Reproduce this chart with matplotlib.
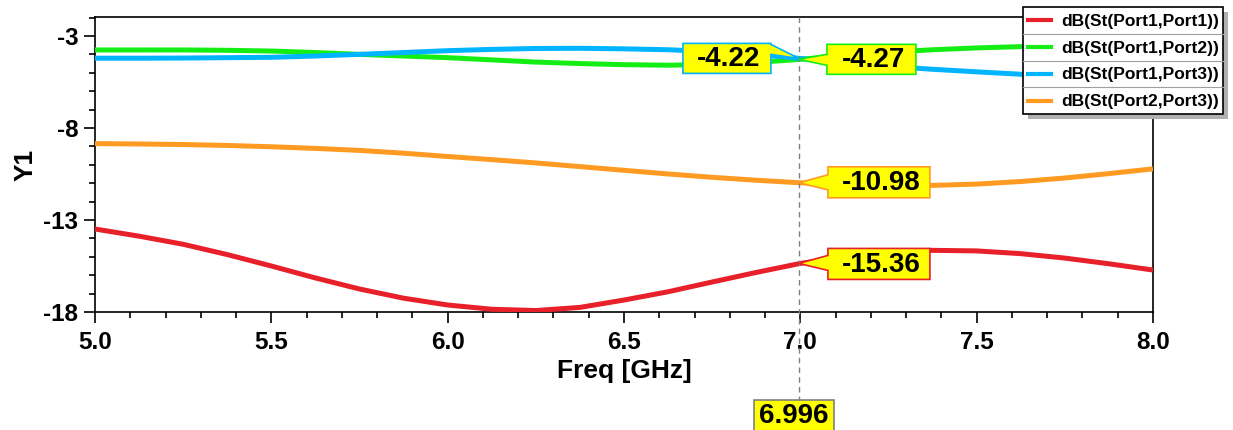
import matplotlib
matplotlib.use("Agg")
import matplotlib.pyplot as plt
from matplotlib.patches import Rectangle, Polygon
from matplotlib.lines import Line2D

plt.rcParams['font.family'] = ['Liberation Sans', 'DejaVu Sans']

# ---------------- data ----------------
freq = [5.0, 5.125, 5.25, 5.375, 5.5, 5.625, 5.75, 5.875, 6.0, 6.125, 6.25, 6.375,
        6.5, 6.625, 6.75, 6.875, 7.0, 7.125, 7.25, 7.375, 7.5, 7.625, 7.75, 7.875, 8.0]
s11 = [-13.49, -13.88, -14.32, -14.88, -15.50, -16.15, -16.75, -17.25, -17.62, -17.85,
       -17.92, -17.75, -17.35, -16.90, -16.37, -15.85, -15.36, -15.00, -14.76, -14.65,
       -14.68, -14.83, -15.07, -15.38, -15.72]
s12 = [-3.76, -3.76, -3.76, -3.78, -3.82, -3.90, -4.00, -4.09, -4.18, -4.30,
       -4.42, -4.50, -4.56, -4.59, -4.55, -4.44, -4.27, -4.06, -3.88, -3.75,
       -3.65, -3.58, -3.52, -3.47, -3.43]
s13 = [-4.21, -4.21, -4.20, -4.18, -4.16, -4.09, -4.00, -3.90, -3.80, -3.73,
       -3.68, -3.67, -3.70, -3.75, -3.85, -4.01, -4.22, -4.45, -4.65, -4.81,
       -4.95, -5.08, -5.20, -5.30, -5.40]
s23 = [-8.85, -8.87, -8.90, -8.95, -9.02, -9.11, -9.22, -9.37, -9.55, -9.72,
       -9.90, -10.10, -10.30, -10.50, -10.68, -10.84, -10.98, -11.07, -11.12, -11.12,
       -11.05, -10.91, -10.72, -10.48, -10.22]

series_names = ["dB(St(Port1,Port1))", "dB(St(Port1,Port2))",
                "dB(St(Port1,Port3))", "dB(St(Port2,Port3))"]
series_vals = [s11, s12, s13, s23]
colors = ["#e8202a", "#14ee14", "#00b4ff", "#ff9a22"]

marker_freq = 6.996
marker_label = "6.996"
marker_vals = {"s11": -15.36, "s12": -4.27, "s13": -4.22, "s23": -10.98}

xticks = [5.0, 5.5, 6.0, 6.5, 7.0, 7.5, 8.0]
yticks = [-18, -13, -8, -3]

# ---------------- figure ----------------
W, H = 1233, 430
fig = plt.figure(figsize=(W / 100, H / 100), dpi=100)

def fx(x):
    return x / W

def fy(y):
    return 1 - y / H

ax = fig.add_axes([fx(95), fy(312), fx(1153) - fx(95), fy(17) - fy(312)])
for vals, c in zip(series_vals, colors):
    ax.plot(freq, vals, color=c, lw=3.6, solid_capstyle='butt',
            solid_joinstyle='round', zorder=3)

ax.set_xlim(5.0, 8.0)
ax.set_ylim(-18, -1.97)
ax.set_xticks(xticks)
ax.set_xticklabels([f"{t:.1f}" for t in xticks])
ax.set_yticks(yticks)
ax.set_yticklabels([str(t) for t in yticks])
ax.set_xticks([5.0 + 0.1 * i for i in range(31)], minor=True)
ax.set_yticks(list(range(-18, -1)), minor=True)
ax.tick_params(axis='both', which='major', direction='out', length=8, width=1.2,
               labelsize=17.5, colors='black')
ax.tick_params(axis='both', which='minor', direction='out', length=4, width=1.2)
for lab in ax.get_xticklabels() + ax.get_yticklabels():
    lab.set_fontweight('bold')
ax.tick_params(axis='x', pad=6)
ax.tick_params(axis='y', pad=4)
for sp in ax.spines.values():
    sp.set_linewidth(1.2)
    sp.set_color('black')

ax.set_xlabel("Freq [GHz]", fontsize=19, fontweight='bold', labelpad=3)
ax.set_ylabel("Y1", fontsize=19, fontweight='bold', labelpad=4)

# marker dashed line
fig.canvas.draw()
tip_x_px, _ = ax.transData.transform((marker_freq, 0))
fig.add_artist(Line2D([tip_x_px / W, tip_x_px / W], [fy(17), fy(400)],
                      transform=fig.transFigure, color='#808080', lw=1,
                      ls=(0, (4, 3)), zorder=5))

def tip_px(val):
    xd, yd = ax.transData.transform((marker_freq, val))
    return xd, H - yd

def callout(val, txt, ec, side, dx0, dx1, dy0, dy1, b0, b1):
    tx, ty = tip_px(val)
    x0, x1 = tx + dx0, tx + dx1
    y0, y1 = ty + dy0, ty + dy1
    if side == 'left':
        pts = [(x0, y0), (x1, y0), (x1, y1), (x0, y1), (x0, ty + b1), (tx, ty), (x0, ty + b0)]
    else:
        pts = [(x0, y0), (x1, y0), (x1, ty + b0), (tx, ty), (x1, ty + b1), (x1, y1), (x0, y1)]
    poly = Polygon([(fx(p[0]), fy(p[1])) for p in pts], closed=True,
                   transform=fig.transFigure, facecolor='#ffff00', edgecolor=ec,
                   lw=1.2, zorder=10)
    fig.add_artist(poly)
    fig.text(fx((x0 + x1) / 2 + 2), fy((y0 + y1) / 2 + 1), txt, ha='center', va='center',
             fontsize=20, fontweight='bold', color='black', zorder=11)

callout(marker_vals["s13"], f"{marker_vals['s13']:.2f}", colors[2], 'right',
        -116, -28, -15, 15, -14, -4)
callout(marker_vals["s12"], f"{marker_vals['s12']:.2f}", colors[1], 'left',
        28, 117, -15, 15, -5, 6)
callout(marker_vals["s23"], f"{marker_vals['s23']:.2f}", colors[3], 'left',
        29, 131, -16, 15, -8, 7)
callout(marker_vals["s11"], f"{marker_vals['s11']:.2f}", colors[0], 'left',
        29, 131, -15, 16, -8, 7)

# bottom x marker box
bx0, bx1, by0, by1 = tip_x_px - 45, tip_x_px + 35, 400, 432
fig.add_artist(Rectangle((fx(bx0), fy(by1)), fx(bx1) - fx(bx0), fy(by0) - fy(by1),
                         transform=fig.transFigure, facecolor='#ffff00',
                         edgecolor='#808080', lw=1.2, zorder=10))
fig.text(fx((bx0 + bx1) / 2), fy(416), marker_label, ha='center', va='center',
         fontsize=20, fontweight='bold', zorder=11)

# ---------------- legend ----------------
lx0, lx1, ly0, ly1 = 1023, 1223, 7, 114
fig.add_artist(Rectangle((fx(lx0 + 5), fy(ly1 + 5)), fx(lx1) - fx(lx0), fy(ly0) - fy(ly1),
                         transform=fig.transFigure, facecolor='#b0b0b0',
                         edgecolor='none', zorder=12))
fig.add_artist(Rectangle((fx(lx0), fy(ly1)), fx(lx1) - fx(lx0), fy(ly0) - fy(ly1),
                         transform=fig.transFigure, facecolor='white',
                         edgecolor='black', lw=1.2, zorder=13))
row_h = (ly1 - ly0) / 4
for i, (name, c) in enumerate(zip(series_names, colors)):
    yc = ly0 + row_h * (i + 0.5)
    fig.add_artist(Line2D([fx(1028), fx(1051)], [fy(yc), fy(yc)], transform=fig.transFigure,
                          color=c, lw=3, zorder=14))
    fig.text(fx(1219), fy(yc + 1), name, ha='right', va='center', fontsize=12.5,
             fontweight='bold', zorder=14)
    if i > 0:
        ys = ly0 + row_h * i
        fig.add_artist(Line2D([fx(lx0), fx(lx1)], [fy(ys), fy(ys)], transform=fig.transFigure,
                              color='#a0a0a0', lw=0.8, zorder=14))

fig.savefig("out.png", dpi=100)
